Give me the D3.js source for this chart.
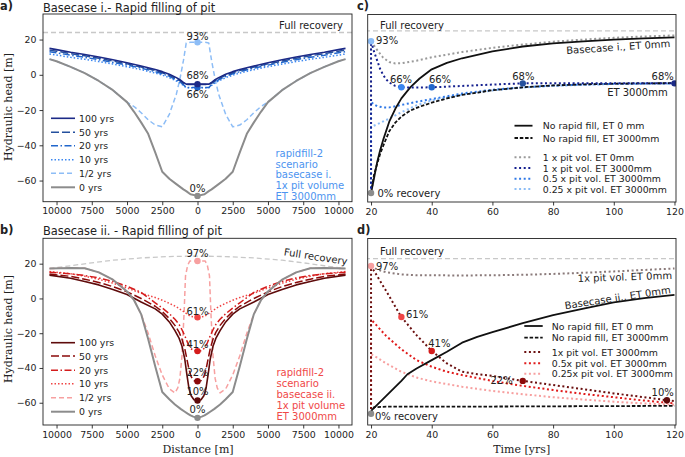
<!DOCTYPE html>
<html><head><meta charset="utf-8">
<script src="https://cdn.jsdelivr.net/npm/d3@7"></script>
<style>body{margin:0;background:#fff}</style>
</head><body>
<svg id="chart" width="685" height="457"></svg>
<script>
// ---------------- DATA ----------------
// Panel a (half profiles, distance [m] from pit centre, head [m]); mirrored about 0
const aFull = 24;
const a0yr   = [[0,-68.7],[500,-67.8],[800,-66],[1000,-65],[1500,-62],[2000,-59],[2500,-55],[3000,-44],[3500,-33.5],[4000,-27],[4500,-21],[5000,-15.5],[6000,-8.7],[7000,-3.5],[8000,1],[9000,4.5],[10000,7.7],[10500,8.9]];
const aHalf  = [[0,18.5],[500,18.5],[800,18],[1000,8],[1250,-2.5],[1500,-11],[2000,-22.5],[2500,-29.5],[3000,-28.5],[3500,-25.5],[4000,-21.5],[4500,-18],[5000,-15.5],[6000,-8.7],[7000,-3.5],[8000,1],[9000,4.5],[10000,7.7],[10500,8.9]];
const a10yr  = [[0,-7.4],[800,-7.4],[1000,-6.0],[1250,-4.6],[1500,-3.5],[2000,-1.6],[2500,-0.2],[3000,1.0],[4000,2.9],[5000,4.6],[6000,6.1],[7000,7.5],[8000,8.8],[9000,9.9],[10000,11.2],[10500,11.8]];
const a20yr  = [[0,-7.2],[800,-7.2],[1000,-5.6],[1250,-4.0],[1500,-2.8],[2000,-0.9],[2500,0.6],[3000,1.8],[4000,3.8],[5000,5.5],[6000,7.1],[7000,8.6],[8000,9.9],[9000,11.1],[10000,12.5],[10500,13.1]];
const a50yr  = [[0,-5.5],[800,-5.5],[1000,-4.8],[1250,-3.4],[1500,-2.2],[2000,-0.3],[2500,1.2],[3000,2.4],[4000,4.4],[5000,6.2],[6000,7.8],[7000,9.4],[8000,10.8],[9000,12.0],[10000,13.4],[10500,14.0]];
const a100yr = [[0,-5.3],[800,-5.3],[1000,-4.3],[1250,-2.8],[1500,-1.6],[2000,0.3],[2500,1.8],[3000,3.0],[4000,5.0],[5000,6.8],[6000,8.5],[7000,10.1],[8000,11.5],[9000,12.8],[10000,14.3],[10500,15.0]];
const aDots  = [[18.5,"93%"],[-7.2,""],[-5.3,"68%"],[-68.7,"0%"]];

// Panel b
const bFull  = [[0,24.4],[2000,24.1],[4000,23.3],[6000,22],[7500,20.5],[9000,18.8],[10500,17.2]];
const b0yr   = [[0,-68.7],[300,-68],[500,-67.3],[700,-66.3],[900,-65.2],[1200,-63.5],[1600,-61],[2000,-58],[2500,-53.8],[3000,-39],[3500,-23.3],[4000,-9],[4500,-1],[5000,4],[6000,10.8],[7000,15],[8000,17.4],[9000,17.5],[10500,17.2]];
const bHalf  = [[0,21.5],[550,21.5],[700,19],[850,13],[950,-8],[1100,-33],[1250,-46],[1400,-51.5],[1600,-54.3],[2000,-52],[2500,-44],[3000,-33],[3500,-20],[4000,-9],[4500,-1],[5000,4],[6000,10.8],[7000,15],[8000,17.4],[9000,17.5],[10500,17.2]];
const b10yr  = [[0,-10.8],[500,-10.3],[1000,-7.5],[1500,-4.8],[2000,-2.8],[2500,-1],[3000,0.5],[4000,3],[5000,6],[6000,8.8],[7000,11],[8000,12.8],[9000,14.2],[10500,15.5]];
const b20yr  = [[0,-30.3],[300,-30],[500,-28.5],[700,-25.5],[900,-21.5],[1100,-18],[1300,-15],[1600,-12],[2000,-8.8],[2500,-5.5],[3000,-2.5],[4000,3.5],[5000,7],[6000,9.8],[7000,11.8],[8000,13.2],[9000,14.2],[10500,15]];
const b50yr  = [[0,-47.6],[250,-47.3],[450,-45],[600,-41],[750,-35],[900,-29],[1100,-23.5],[1300,-19.5],[1600,-15.5],[2000,-11.5],[2500,-7.5],[3000,-4.5],[4000,0],[5000,3.8],[6000,6.8],[7000,9.2],[8000,11.1],[9000,12.7],[10500,14.0]];
const b100yr = [[0,-58.7],[250,-58.3],[450,-56],[600,-52],[750,-44],[900,-35],[1100,-27.5],[1300,-23],[1600,-18.5],[2000,-13.5],[2500,-9],[3000,-6],[4000,-2],[5000,2.3],[6000,5.2],[7000,7.8],[8000,9.8],[9000,11.6],[10500,13.4]];
const bDots  = [[21.5,"97%"],[-10.8,"61%"],[-30.3,"41%"],[-47.6,"22%"],[-58.7,"10%"],[-68.7,"0%"]];

// Panel c (time [yrs], head [m])
const cFull = 25;
const cNoFill0    = [[20,-68.7],[21,-60],[22,-51],[23,-44],[24,-38],[26,-27.5],[28,-20],[30,-14],[33,-7.5],[36,-2.5],[40,2.8],[45,6.5],[50,9.2],[60,13.2],[70,16],[80,17.8],[90,19],[100,20],[110,20.7],[120,21.3]];
const cNoFill3000 = [[20,-68.7],[21,-58],[22,-52],[23,-46],[24,-41.5],[26,-33],[28,-28],[30,-24.5],[33,-21],[36,-18.8],[40,-16.5],[45,-14],[50,-12],[60,-9.3],[70,-7.6],[80,-6.5],[90,-5.9],[100,-5.5],[110,-5.3],[120,-5.2]];
const cPit1ET0    = [[20,-68.7],[20,19],[22,14],[24,9.5],[26,7],[28,6.2],[30,6.3],[35,7.8],[40,9.8],[50,12.8],[60,15.2],[70,17.1],[80,18.8],[90,20],[100,21],[110,21.8],[120,22.4]];
const cPit1       = [[20,-68.7],[20,19],[21,13],[22,8],[23,3],[24,-0.5],[25,-3],[26,-4.8],[28,-6.8],[30,-7.6],[35,-7.7],[40,-7.6],[50,-6.8],[60,-6],[70,-5.3],[80,-5.2],[100,-5.2],[120,-5.2]];
const cPit05      = [[20,-68.7],[20,-16],[21,-17.5],[22,-18.5],[24,-19.2],[26,-19.2],[28,-18.6],[30,-17.8],[35,-16],[40,-14.4],[50,-11.2],[60,-9],[70,-7.6],[80,-6.6],[90,-6],[100,-5.6],[120,-5.3]];
const cPit025     = [[20,-68.7],[20,-30.5],[22,-29],[25,-26.5],[30,-22],[35,-18],[40,-15.2],[50,-11.8],[60,-9.4],[70,-7.7],[80,-6.7],[100,-5.7],[120,-5.3]];
const cDots = [[20,-68.7,"#8c8c8c"],[20,19,"#8dbdf6"],[30,-7.6,"#3a86f0"],[40,-7.6,"#2166cc"],[70,-5.3,"#24509e"],[120,-5.3,"#1c2a87"]];

// Panel d
const dFull = 24.5;
const dNoFill0    = [[20,-67],[25,-58],[30,-49],[32,-45],[35,-41.5],[40,-36.5],[45,-31.5],[50,-26],[55,-22.5],[60,-19.7],[70,-14.3],[80,-9.5],[90,-5.5],[100,-1.8],[110,0.7],[120,2.7]];
const dNoFill3000 = [[20,-68.7],[21,-64.8],[25,-64.5],[60,-64.4],[120,-64]];
const dPit1ET0    = [[20,20.1],[22,18],[25,16.3],[30,15],[35,14.5],[50,14.4],[60,14.5],[70,14.8],[80,15.3],[90,16],[100,16.8],[110,17.7],[120,18.6]];
const dPit1       = [[20,-68.7],[20,20.1],[25,5],[30,-10.6],[35,-21.5],[40,-31],[45,-38.5],[50,-43.5],[55,-45],[60,-46],[70,-49],[80,-51.5],[90,-54],[100,-56.5],[110,-58.8],[117.5,-60.6],[120,-61.2]];
const dPit05      = [[20,-68.7],[20,-12],[22,-16],[25,-22],[30,-30],[35,-36.5],[40,-40.5],[45,-43.5],[50,-45.5],[60,-49],[70,-52],[80,-54.5],[90,-56.8],[100,-58.8],[110,-60.8],[120,-62.5]];
const dPit025     = [[20,-68.7],[20,-33],[22,-35],[25,-38.5],[30,-43.5],[35,-47],[40,-49.3],[50,-52.5],[60,-55],[70,-57],[80,-58.8],[90,-60.2],[100,-61.5],[110,-62.5],[120,-63.3]];
const dDots = [[20,-68.7,"#8c8c8c"],[20,20.1,"#f7a0a0"],[30,-10.6,"#f04545"],[40,-31,"#d41c1c"],[70,-49,"#8b0a0a"],[117.5,-60.6,"#5e0b0b"]];

const distTicks = [-10000,-7500,-5000,-2500,0,2500,5000,7500,10000];
const timeTicks = [20,40,60,80,100,120];
const headTicks = [-60,-40,-20,0,20];

// ---------------- DRAWING ----------------
const svg = d3.select("#chart");
const SANS = "'DejaVu Sans', sans-serif", SERIF = "'DejaVu Serif', serif";
const mirror = h => h.slice().reverse().map(([d,v]) => [-d,v]).concat(h.slice(1));

let clipId = 0;
function panel(x0,x1,y0,y1,xdom,ydom){
  const xs = d3.scaleLinear().domain(xdom).range([x0,x1]);
  const ys = d3.scaleLinear().domain(ydom).range([y1,y0]);
  const id = "clip"+(clipId++);
  svg.append("clipPath").attr("id",id).append("rect").attr("x",x0).attr("y",y0).attr("width",x1-x0).attr("height",y1-y0);
  const g = svg.append("g").attr("clip-path",`url(#${id})`);
  const top = svg.append("g");
  return {xs,ys,g,top,x0,x1,y0,y1};
}
function frame(p){
  p.top.append("rect").attr("x",p.x0).attr("y",p.y0).attr("width",p.x1-p.x0).attr("height",p.y1-p.y0)
    .attr("fill","none").attr("stroke","#222").attr("stroke-width",0.9);
}
function xAxis(p, ticks, fmt){
  const ax = svg.append("g").attr("transform",`translate(0,${p.y1})`)
    .call(d3.axisBottom(p.xs).tickValues(ticks).tickSize(3.5).tickPadding(2.5).tickFormat(fmt));
  ax.select(".domain").remove();
  ax.selectAll("line").attr("stroke","#222").attr("stroke-width",0.9);
  ax.selectAll("text").attr("font-family",SANS).attr("font-size",9.4).attr("fill","#222");
}
function yAxis(p, ticks){
  const ax = svg.append("g").attr("transform",`translate(${p.x0},0)`)
    .call(d3.axisLeft(p.ys).tickValues(ticks).tickSize(3.5).tickPadding(3).tickFormat(d3.format("d")));
  ax.select(".domain").remove();
  ax.selectAll("line").attr("stroke","#222").attr("stroke-width",0.9);
  ax.selectAll("text").attr("font-family",SANS).attr("font-size",9.4).attr("fill","#222");
}
function line(p, data, color, w, dash){
  const l = d3.line().x(d=>p.xs(d[0])).y(d=>p.ys(d[1]));
  p.g.append("path").attr("d",l(data)).attr("fill","none").attr("stroke",color)
    .attr("stroke-width",w).attr("stroke-dasharray",dash||null).attr("stroke-linejoin","round");
}
function dot(p,x,y,color){ p.g.append("circle").attr("cx",p.xs(x)).attr("cy",p.ys(y)).attr("r",3.2).attr("fill",color); }
function text(x,y,s,opt={}){
  const t = svg.append("text").attr("x",x).attr("y",y).text(s)
    .attr("font-family",opt.font||SANS).attr("font-size",opt.size||10)
    .attr("fill",opt.color||"#222").attr("text-anchor",opt.anchor||"start")
    .attr("dominant-baseline","central");
  if(opt.weight) t.attr("font-weight",opt.weight);
  if(opt.rot) t.attr("transform",`rotate(${opt.rot},${x},${y})`);
  return t;
}
function legend(x0,x1,tx,rows){
  rows.forEach(r=>{
    svg.append("line").attr("x1",x0).attr("x2",x1).attr("y1",r.y).attr("y2",r.y)
      .attr("stroke",r.color).attr("stroke-width",r.w).attr("stroke-dasharray",r.dash||null);
    text(tx,r.y,r.label,{size:9.4});
  });
}

// styles
const BL = {c100:"#1c2a87",c50:"#24509e",c20:"#2166cc",c10:"#3a86f0",cHalf:"#8dbdf6"};
const RD = {c100:"#5e0b0b",c50:"#8b0a0a",c20:"#d41c1c",c10:"#f04545",cHalf:"#f7a0a0"};
const GREY = "#8c8c8c", FULL = "#c8c8c8";
const DASH50 = "8,3", DASH20 = "7,2.5,1.5,2.5", DOT10 = "1.5,2", DASHH = "5,3";

// ---- Panel a ----
const pa = panel(43,352,14,201.7,[-10960,10960],[-72,34.5]);
line(pa,[[-10960,aFull],[10960,aFull]],FULL,1.3,"5,3");
line(pa,mirror(aHalf),BL.cHalf,1.5,DASHH);
line(pa,mirror(a10yr),BL.c10,1.5,DOT10);
line(pa,mirror(a20yr),BL.c20,1.5,DASH20);
line(pa,mirror(a50yr),BL.c50,1.5,DASH50);
line(pa,mirror(a100yr),BL.c100,1.6);
line(pa,mirror(a0yr),GREY,2);
dot(pa,0,aDots[0][0],BL.cHalf); dot(pa,0,aDots[1][0],BL.c20); dot(pa,0,aDots[2][0],BL.c100); dot(pa,0,aDots[3][0],GREY);
frame(pa); xAxis(pa,distTicks,d=>Math.abs(d)); yAxis(pa,headTicks);
text(343,25.7,"Full recovery",{anchor:"end"});
text(pa.xs(0),36.3,"93%",{anchor:"middle"});
text(pa.xs(0),75.7,"68%",{anchor:"middle"});
text(pa.xs(0),94,"66%",{anchor:"middle"});
text(pa.xs(0),188,"0%",{anchor:"middle"});
["rapidfill-2","scenario","basecase i.","1x pit volume","ET 3000mm"].forEach((s,i)=>text(275.5,153.5+i*10.7,s,{color:"#4d94f0",size:10}));
legend(51,75,79,[
  {y:118.3,label:"100 yrs",color:BL.c100,w:1.6},
  {y:132.3,label:"50 yrs",color:BL.c50,w:1.5,dash:DASH50},
  {y:145.7,label:"20 yrs",color:BL.c20,w:1.5,dash:DASH20},
  {y:159.7,label:"10 yrs",color:BL.c10,w:1.5,dash:DOT10},
  {y:173.3,label:"1/2 yrs",color:BL.cHalf,w:1.5,dash:DASHH},
  {y:187.3,label:"0 yrs",color:GREY,w:2}]);
text(43,7.5,"Basecase i.- Rapid filling of pit",{size:11.4});
text(0,6,"a)",{size:11.4,weight:"bold"});

// ---- Panel b ----
const pb = panel(43,352,238.3,425,[-10960,10960],[-72.8,34.6]);
line(pb,mirror(bFull),FULL,1.3,"5,3");
line(pb,mirror(bHalf),RD.cHalf,1.5,DASHH);
line(pb,mirror(b10yr),RD.c10,1.5,DOT10);
line(pb,mirror(b20yr),RD.c20,1.5,DASH20);
line(pb,mirror(b50yr),RD.c50,1.5,DASH50);
line(pb,mirror(b100yr),RD.c100,1.6);
line(pb,mirror(b0yr),GREY,2);
const bCols = [RD.cHalf,RD.c10,RD.c20,RD.c50,RD.c100,GREY];
bDots.forEach((d,i)=>dot(pb,0,d[0],bCols[i]));
frame(pb); xAxis(pb,distTicks,d=>Math.abs(d)); yAxis(pb,headTicks);
text(315.8,256.7,"Full recovery",{anchor:"middle",rot:8.7});
[[253.3,"97%"],[311,"61%"],[344.3,"41%"],[372.7,"22%"],[391.7,"10%"],[409.3,"0%"]].forEach(([y,s])=>text(pb.xs(0),y,s,{anchor:"middle"}));
["rapidfill-2","scenario","basecase ii.","1x pit volume","ET 3000mm"].forEach((s,i)=>text(276.5,372.7+i*11,s,{color:"#f04848",size:10}));
legend(51,75,79,[
  {y:342.7,label:"100 yrs",color:RD.c100,w:1.6},
  {y:356,label:"50 yrs",color:RD.c50,w:1.5,dash:DASH50},
  {y:370.3,label:"20 yrs",color:RD.c20,w:1.5,dash:DASH20},
  {y:383.7,label:"10 yrs",color:RD.c10,w:1.5,dash:DOT10},
  {y:397.7,label:"1/2 yrs",color:RD.cHalf,w:1.5,dash:DASHH},
  {y:411.7,label:"0 yrs",color:GREY,w:2}]);
text(43,231,"Basecase ii. - Rapid filling of pit",{size:11.4});
text(0,230,"b)",{size:11.4,weight:"bold"});
text(198,449.5,"Distance [m]",{font:SERIF,size:11,anchor:"middle"});
text(8,107,"Hydraulic head [m]",{font:SERIF,size:11,anchor:"middle",rot:-90});
text(8,329,"Hydraulic head [m]",{font:SERIF,size:11,anchor:"middle",rot:-90});

// ---- Panel c ----
const DOTC = "2,2.6";
const pc = panel(367.7,676,14.5,202,[18.9,120.5],[-73.9,34.5]);
line(pc,[[18,cFull],[122,cFull]],FULL,1.3,"5,3");
line(pc,cPit1ET0,"#9a9a9a",2,DOTC);
line(pc,cPit025,"#8dbdf6",2,DOTC);
line(pc,cPit05,"#2f78e6",2,DOTC);
line(pc,cNoFill3000,"#111",1.8,"3.5,1.8");
line(pc,cNoFill0,"#111",1.8);
line(pc,cPit1,"#15208f",2,DOTC);
cDots.forEach(d=>dot(pc,d[0],d[1],d[2]));
frame(pc); xAxis(pc,timeTicks,d3.format("d"));
text(380,25.7,"Full recovery");
text(376,40.7,"93%");
text(401,79.7,"66%",{anchor:"middle"});
text(440,79.7,"66%",{anchor:"middle"});
text(523.3,76.3,"68%",{anchor:"middle"});
text(662.7,76.3,"68%",{anchor:"middle"});
text(618.3,47,"Basecase i., ET 0mm",{anchor:"middle",rot:-3.9});
text(667.7,92.3,"ET 3000mm",{anchor:"end"});
text(377.5,193,"0% recovery");
legend(514.5,532.5,542.7,[
  {y:125.7,label:"No rapid fill, ET 0 mm",color:"#111",w:1.8},
  {y:138,label:"No rapid fill, ET 3000mm",color:"#111",w:1.8,dash:"3.5,1.8"},
  {y:157.3,label:"1 x pit vol. ET 0mm",color:"#9a9a9a",w:2,dash:DOTC},
  {y:168,label:"1 x pit vol. ET 3000mm",color:"#15208f",w:2,dash:DOTC},
  {y:178.7,label:"0.5 x pit vol. ET 3000mm",color:"#2f78e6",w:2,dash:DOTC},
  {y:189,label:"0.25 x pit vol. ET 3000mm",color:"#8dbdf6",w:2,dash:DOTC}]);
text(357,6,"c)",{size:11.4,weight:"bold"});

// ---- Panel d ----
const pd = panel(367.7,676,238.5,425,[18.9,120.5],[-75.5,36.6]);
line(pd,[[18,dFull],[122,dFull]],FULL,1.3,"5,3");
line(pd,dPit1ET0,"#8a7a7a",2,DOTC);
line(pd,dPit025,"#f7a0a0",2,DOTC);
line(pd,dPit05,"#e01b1b",2,DOTC);
line(pd,dNoFill3000,"#111",1.8,"3.5,1.8");
line(pd,dNoFill0,"#111",1.8);
line(pd,dPit1,"#6b1010",2,DOTC);
dDots.forEach(d=>dot(pd,d[0],d[1],d[2]));
frame(pd); xAxis(pd,timeTicks,d3.format("d"));
text(380,251,"Full recovery");
text(376,266,"97%");
text(406,314.3,"61%");
text(439.3,343.3,"41%",{anchor:"middle"});
text(512.7,380,"22%",{anchor:"end"});
text(662.7,392,"10%",{anchor:"middle"});
text(375,416,"0% recovery");
text(672,275.3,"1x pit vol. ET 0mm",{anchor:"end",rot:-2});
text(617.7,297.7,"Basecase ii., ET 0mm",{anchor:"middle",rot:-8.6});
legend(524.3,542.7,551.7,[
  {y:326,label:"No rapid fill, ET 0 mm",color:"#111",w:1.8},
  {y:337.7,label:"No rapid fill, ET 3000mm",color:"#111",w:1.8,dash:"3.5,1.8"},
  {y:352,label:"1x pit vol. ET 3000mm",color:"#6b1010",w:2,dash:DOTC},
  {y:363.3,label:"0.5x pit vol. ET 3000mm",color:"#e01b1b",w:2,dash:DOTC},
  {y:373.7,label:"0.25x pit vol. ET 3000mm",color:"#f7a0a0",w:2,dash:DOTC}]);
text(357,230,"d)",{size:11.4,weight:"bold"});
text(521.7,449.5,"Time [yrs]",{font:SERIF,size:11,anchor:"middle"});
</script></body></html>
